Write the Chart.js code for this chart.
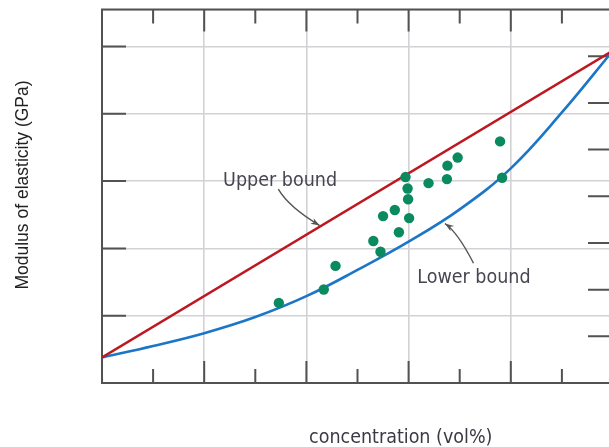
<!DOCTYPE html>
<html><head><meta charset="utf-8">
<script src="https://cdn.jsdelivr.net/npm/chart.js@4.4.1/dist/chart.umd.min.js"></script>
<style>
html,body{margin:0;padding:0;overflow:hidden;background:#fff;width:609px;height:447px}
#wrap{position:absolute;left:0;top:0;width:620px;height:447px}
</style>
</head><body><div id="wrap"><canvas id="c" width="620" height="447"></canvas></div>
<script>
// ---- data (concentration in vol%, modulus in GPa-like units) ----
const boundConc = [0, 10, 20, 30, 40, 50, 60, 70, 80, 90, 100];
const upperConc = [0, 100];
const upperBound = [3.8, 49.4];
const lowerBound = [3.8, 5.5, 7.4, 9.8, 12.9, 16.8, 21.0, 25.8, 31.9, 40.2, 49.4];
const expConc = [77.9, 69.6, 67.6, 59.4, 63.9, 67.5, 78.3, 59.8, 59.9, 57.3, 55.0, 60.1, 58.1, 53.1, 54.5, 45.7, 43.4, 34.6];
const expModulus = [35.9, 33.5, 32.3, 30.6, 29.7, 30.3, 30.5, 28.9, 27.3, 25.7, 24.8, 24.5, 22.4, 21.1, 19.5, 17.4, 13.9, 11.9];
// tick marks
const xMajorTicks = [20, 40, 60, 80, 100];
const xMinorTicks = [10, 30, 50, 70, 90];
const yLeftTicks = [10, 20, 30, 40, 50];
const yRightTicks = [1, 2, 3, 4, 5, 6, 7];
// texts
const xTitle = 'concentration (vol%)';
const yTitle = 'Modulus of elasticity (GPa)';
const upperLabel = 'Upper bound';
const lowerLabel = 'Lower bound';

const decor = {
  id: 'decor',
  beforeDatasetsDraw(chart) {
    const {ctx, chartArea: a, scales: {x, y, y2}} = chart;
    ctx.save();
    ctx.strokeStyle = '#525252';
    ctx.lineWidth = 2;
    ctx.beginPath();
    ctx.moveTo(a.right + 6, a.top); ctx.lineTo(a.left, a.top);
    ctx.lineTo(a.left, a.bottom); ctx.lineTo(a.right + 6, a.bottom);
    const vt = (v, len) => {
      const p = x.getPixelForValue(v);
      ctx.moveTo(p, a.top); ctx.lineTo(p, a.top + len);
      ctx.moveTo(p, a.bottom); ctx.lineTo(p, a.bottom - len);
    };
    xMajorTicks.forEach(v => vt(v, 22));
    xMinorTicks.forEach(v => vt(v, 14));
    yLeftTicks.forEach(v => {
      const p = y.getPixelForValue(v);
      ctx.moveTo(a.left, p); ctx.lineTo(a.left + 24, p);
    });
    yRightTicks.forEach(v => {
      const p = y2.getPixelForValue(v);
      ctx.moveTo(a.right, p); ctx.lineTo(a.right - 25, p);
    });
    ctx.stroke();
    ctx.restore();
  },
  afterDatasetsDraw(chart) {
    const {ctx, scales: {x, y}} = chart;
    const P = (vx, vy) => [x.getPixelForValue(vx), y.getPixelForValue(vy)];
    ctx.save();
    // arrows
    const arrow = (s, c, t) => {
      ctx.strokeStyle = '#555'; ctx.fillStyle = '#555'; ctx.lineWidth = 1.4;
      ctx.beginPath(); ctx.moveTo(s[0], s[1]); ctx.quadraticCurveTo(c[0], c[1], t[0], t[1]); ctx.stroke();
      const ang = Math.atan2(t[1] - c[1], t[0] - c[0]);
      const L = 9, W = 3.2;
      ctx.beginPath();
      ctx.moveTo(t[0], t[1]);
      ctx.lineTo(t[0] - L * Math.cos(ang) + W * Math.sin(ang), t[1] - L * Math.sin(ang) - W * Math.cos(ang));
      ctx.lineTo(t[0] - L * 0.7 * Math.cos(ang), t[1] - L * 0.7 * Math.sin(ang));
      ctx.lineTo(t[0] - L * Math.cos(ang) - W * Math.sin(ang), t[1] - L * Math.sin(ang) + W * Math.cos(ang));
      ctx.closePath(); ctx.fill();
    };
    arrow(P(34.5, 28.8), P(36.6, 26.1), P(42.6, 23.4));
    arrow(P(72.7, 17.8), P(69.6, 22.4), P(67.1, 23.7));
    // annotation text
    ctx.fillStyle = '#464650';
    ctx.font = '19.5px "DejaVu Sans Condensed", "DejaVu Sans", sans-serif';
    ctx.textBaseline = 'alphabetic'; ctx.textAlign = 'left';
    let p = P(23.7, 29.3); ctx.fillText(upperLabel, p[0], p[1]);
    p = P(61.7, 14.9); ctx.fillText(lowerLabel, p[0], p[1]);
    // axis titles
    ctx.fillStyle = '#3a3a44';
    ctx.fillText(xTitle, 309, 443);
    ctx.fillStyle = '#222';
    ctx.font = '17.5px "Liberation Sans", Arial, sans-serif';
    ctx.translate(28, 185); ctx.rotate(-Math.PI / 2);
    ctx.textAlign = 'center';
    ctx.fillText(yTitle, 0, 0);
    ctx.restore();
  }
};

new Chart(document.getElementById('c'), {
  type: 'line',
  data: {
    datasets: [
      {label: 'Experimental', type: 'scatter', data: expConc.map((v, i) => ({x: v, y: expModulus[i]})),
       backgroundColor: '#0a8a5e', borderColor: '#0a8a5e', pointRadius: 5.2, borderWidth: 0, order: 0},
      {label: 'Upper bound', data: upperConc.map((v, i) => ({x: v, y: upperBound[i]})),
       borderColor: '#bd1720', borderWidth: 2.6, pointRadius: 0, fill: false, order: 1},
      {label: 'Lower bound', data: boundConc.map((v, i) => ({x: v, y: lowerBound[i]})),
       borderColor: '#1b76c8', borderWidth: 2.6, pointRadius: 0, fill: false, tension: 0.4, order: 1}
    ]
  },
  options: {
    responsive: false, animation: false, devicePixelRatio: 1,
    layout: {padding: {left: 102, top: 9.5, right: 7, bottom: 64}},
    plugins: {legend: {display: false}, tooltip: {enabled: false}},
    scales: {
      x: {type: 'linear', min: 0, max: 100, ticks: {display: false, stepSize: 20},
          grid: {drawTicks: false, color: '#d2d2d6', lineWidth: 1.6}, border: {display: false}},
      y: {type: 'linear', min: 0, max: 55.5, ticks: {display: false, stepSize: 10},
          grid: {drawTicks: false, color: '#d2d2d6', lineWidth: 1.6}, border: {display: false}},
      y2: {type: 'linear', position: 'right', min: 0, max: 8, display: false}
    }
  },
  plugins: [decor]
});
</script>
</body></html>
